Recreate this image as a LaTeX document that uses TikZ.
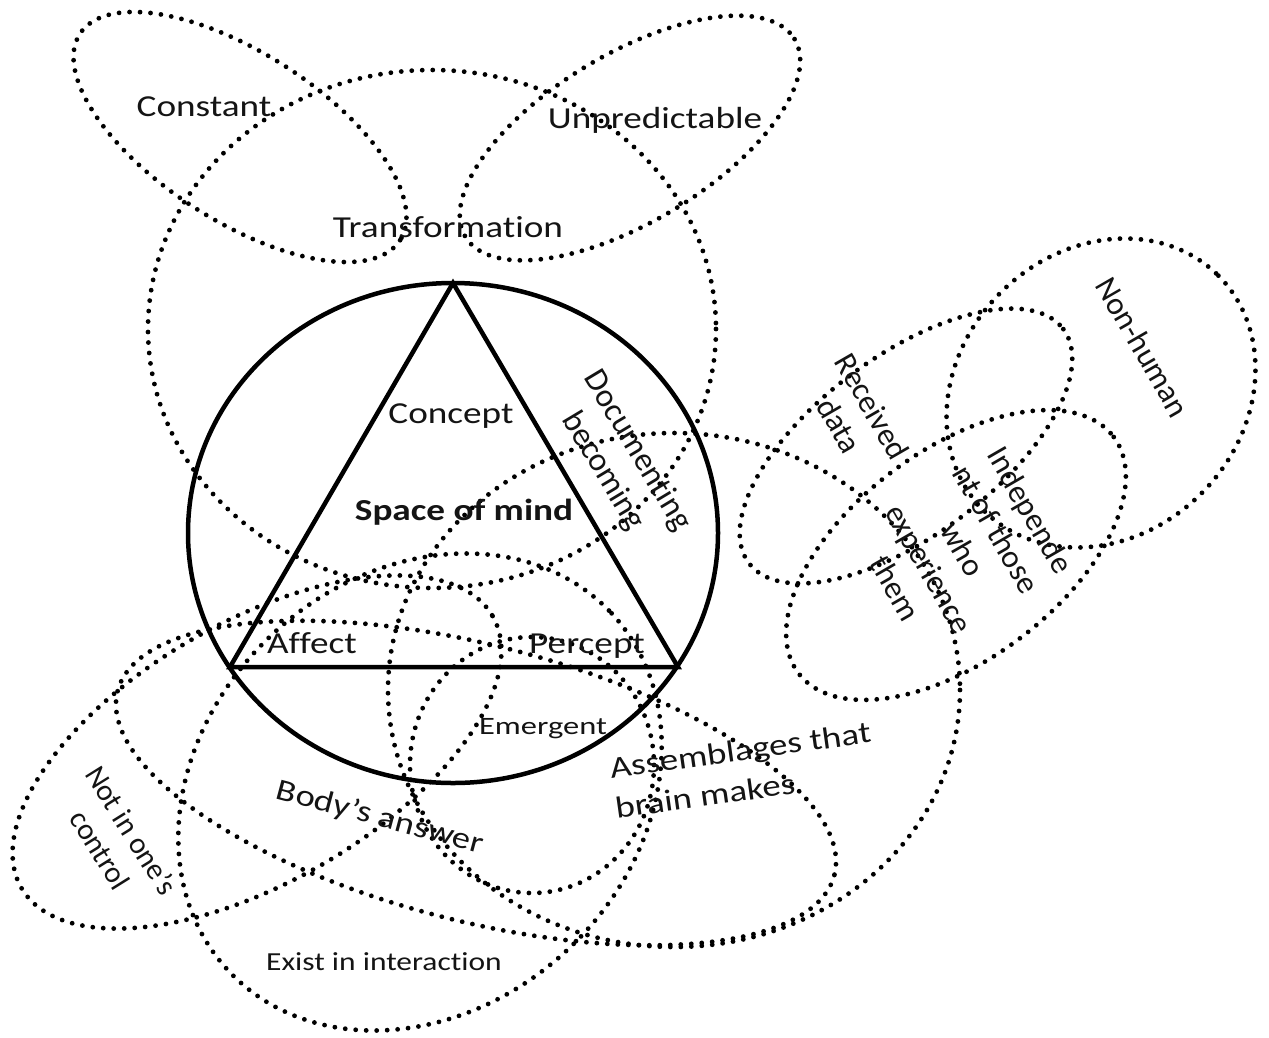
\documentclass[tikz,border=0pt]{standalone}
\usepackage{fontspec}
\setmainfont{Carlito}[Ligatures=NoCommon]
\usepackage{graphicx}
% widen a piece of text horizontally
\newcommand\hstretch[2][1.22]{\scalebox{#1}[1]{#2}}

\begin{document}
\begin{tikzpicture}[x=1pt, y=-1pt,
  dotring/.style={line width=4.8pt, dash pattern=on 0pt off 10.5pt, line cap=round},
  solidring/.style={line width=4.5pt},
  lbl/.style={inner sep=0pt, text=black!92, font=\fontsize{30.5}{36}\selectfont},
  lblsmall/.style={inner sep=0pt, text=black!92, font=\fontsize{25}{30}\selectfont},
  lblrot/.style={inner sep=0pt, text=black!92, align=center, font=\fontsize{32}{39}\selectfont}
]
\fill[white] (0,0) rectangle (1269,1037);
\useasboundingbox (0,0) rectangle (1269,1037);

% ---- dotted sets ----
% Constant
\draw[dotring, rotate around={-32.8:(240,137)}] (240,137) ellipse [x radius=190.5, y radius=84];
% Unpredictable
\draw[dotring, rotate around={31:(630,138)}] (630,138) ellipse [x radius=192, y radius=84];
% Transformation
\draw[dotring] (432,329) ellipse [x radius=284, y radius=259];
% large right set
\draw[dotring] (674,690) ellipse [x radius=286, y radius=257];
% body / assemblages
\draw[dotring, rotate around={-14.4:(476,783)}] (476,783) ellipse [x radius=370, y radius=138];
% not in one's control
\draw[dotring, rotate around={30:(257,752)}] (257,752) ellipse [x radius=272, y radius=130];
% exist in interaction
\draw[dotring, rotate around={43:(420,792)}] (420,792) ellipse [x radius=262, y radius=216];
% emergent
\draw[dotring] (532,765) ellipse [x radius=122, y radius=128];
% received data
\draw[dotring, rotate around={36.6:(906,446)}] (906,446) ellipse [x radius=196, y radius=90];
% non-human
\draw[dotring, rotate around={45:(1101,393)}] (1101,393) ellipse [x radius=166, y radius=142];
% independent of those who experience them
\draw[dotring, rotate around={36.8:(956,555)}] (956,555) ellipse [x radius=197, y radius=105];

% ---- space of mind ----
\draw[solidring] (453,533) ellipse [x radius=265, y radius=250];
\coordinate (apex) at (453,283);
\coordinate (baseL) at (230,667);
\coordinate (baseR) at (678,667);
\draw[solidring] (apex) -- (baseL) -- (baseR) -- cycle;

% ---- labels ----
\node[lbl, anchor=base] (constant) at (204,116) {\hstretch{Constant}};
\node[lbl, anchor=base] (unpred) at (655,128) {\hstretch{Unpredictable}};
\node[lbl, anchor=base] (transf) at (448,237) {\hstretch{Transformation}};
\node[lbl, anchor=base] (concept) at (451,423) {\hstretch{Concept}};
\node[lbl, anchor=base, font=\fontsize{30.5}{36}\selectfont\bfseries] (space) at (464,520) {\hstretch{Space of mind}};
\node[lbl, anchor=base] (affect) at (312,653) {\hstretch{Affect}};
\node[lbl, anchor=base] (percept) at (587,653) {\hstretch{Percept}};
\node[lblsmall, anchor=base] (emergent) at (543,734) {\hstretch[1.3]{Emergent}};
\node[lbl, anchor=base, font=\fontsize{26}{31}\selectfont] (exist) at (384,970) {\hstretch[1.21]{Exist in interaction}};

\node[lblrot, rotate=-59, font=\fontsize{33}{40}\selectfont] (docu) at (620,461) {Documenting\\becoming};
\node[lblrot, rotate=-58, font=\fontsize{30}{37}\selectfont] (notin) at (116,840) {Not in one’s\\control};
\node[lblrot, rotate=-60, font=\fontsize{32}{38}\selectfont] (received) at (856,416) {Received\\data};
\node[lblrot, rotate=-60] (nonhuman) at (1143,347) {Non-human};
\node[lblrot, rotate=-60] (indep) at (963,549) {Independe\\nt of those\\who\\experience\\them};

\node[lbl, rotate=-15] (body) at (380,818) {\hstretch[1.2]{Body’s answer}};
\node[lbl, rotate=8, align=left, font=\fontsize{30.5}{40}\selectfont] (assem) at (743,770)
  {\hstretch[1.21]{Assemblages that}\\\hstretch[1.21]{brain makes}};
\end{tikzpicture}
\end{document}
